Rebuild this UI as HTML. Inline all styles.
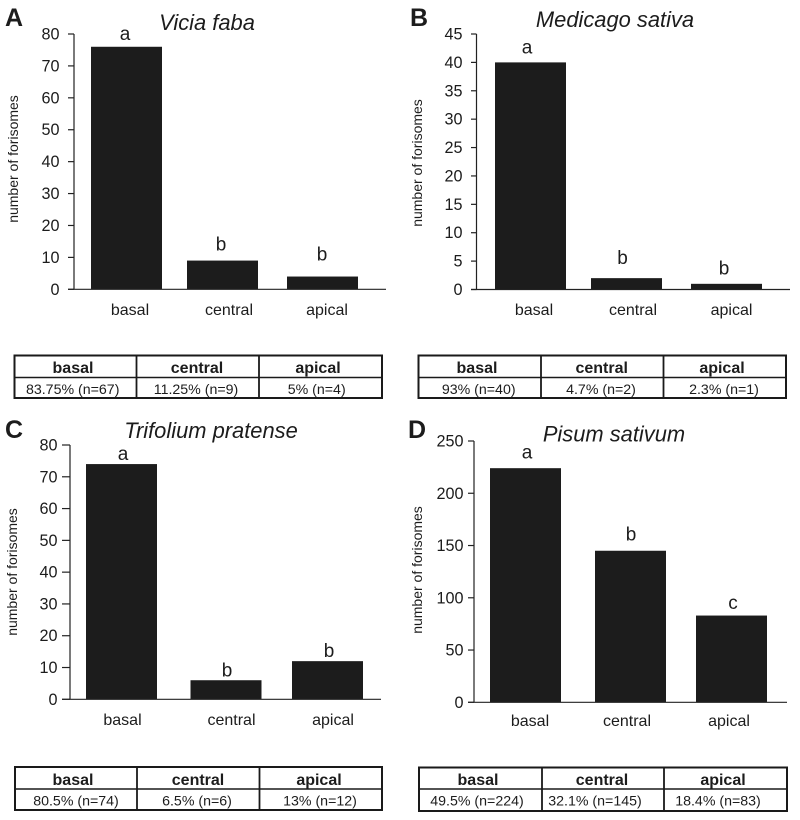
<!DOCTYPE html>
<html>
<head>
<meta charset="utf-8">
<style>
html,body{margin:0;padding:0;background:#fff;}
svg{display:block;font-family:"Liberation Sans",Arial,sans-serif;filter:blur(0.35px);}
text{fill:#1c1c1c;}
</style>
</head>
<body>
<svg id="figure" width="800" height="820" viewBox="0 0 800 820" xmlns="http://www.w3.org/2000/svg"></svg>
<script>
var categories = ['basal', 'central', 'apical'];
var valuesA = [76, 9, 4];
var valuesB = [40, 2, 1];
var valuesC = [74, 6, 12];
var valuesD = [224, 145, 83];
var ticksA = [0, 10, 20, 30, 40, 50, 60, 70, 80];
var ticksB = [0, 5, 10, 15, 20, 25, 30, 35, 40, 45];
var ticksC = [0, 10, 20, 30, 40, 50, 60, 70, 80];
var ticksD = [0, 50, 100, 150, 200, 250];
var lettersA = ['a', 'b', 'b'];
var lettersB = ['a', 'b', 'b'];
var lettersC = ['a', 'b', 'b'];
var lettersD = ['a', 'b', 'c'];
var cellsA = ['83.75% (n=67)', '11.25% (n=9)', '5% (n=4)'];
var cellsB = ['93% (n=40)', '4.7% (n=2)', '2.3% (n=1)'];
var cellsC = ['80.5% (n=74)', '6.5% (n=6)', '13% (n=12)'];
var cellsD = ['49.5% (n=224)', '32.1% (n=145)', '18.4% (n=83)'];

var svg = document.getElementById('figure');
var NS = 'http://www.w3.org/2000/svg';

function mk(tag, name, attrs, content) {
  var el = document.createElementNS(NS, tag);
  
  
  for (var k in attrs) { el.setAttribute(k, attrs[k]); }
  if (content !== undefined) { el.textContent = content; }
  svg.appendChild(el);
  return el;
}

function drawPanel(p) {
  var maxV = p.ticks[p.ticks.length - 1];
  function y(v) { return p.y0 + (p.yTop - p.y0) * v / maxV; }
  var id = p.letter.toLowerCase();

  mk('text', 'panel-label-' + id, {x: p.letterX, y: p.letterY, 'font-size': 25, 'font-weight': 'bold', fill: '#111'}, p.letter);
  mk('text', 'chart-title-' + id, {x: p.titleX, y: p.titleY, 'font-size': 21.9, 'font-style': 'italic', 'text-anchor': 'middle'}, p.title);
  mk('text', 'y-axis-title-' + id, {x: 0, y: 0, 'font-size': 14, 'text-anchor': 'middle',
    transform: 'translate(' + p.yTitleX + ',' + p.yTitleY + ') rotate(-90)'}, 'number of forisomes');

  p.values.forEach(function (v, i) {
    var top = y(v);
    mk('rect', 'bar-' + id + '-' + categories[i], {x: p.barX[i], y: top, width: 71, height: p.y0 - top, fill: '#1c1c1c'});
    mk('text', 'significance-letter-' + id + '-' + categories[i], {x: p.letterXs[i], y: top - p.letterGap[i], 'font-size': 19, 'text-anchor': 'middle'}, p.letters[i]);
    mk('text', 'x-label-' + id + '-' + categories[i], {x: p.labelX[i], y: p.labelY, 'font-size': 16, 'text-anchor': 'middle'}, categories[i]);
  });

  mk('line', 'y-axis-' + id, {x1: p.axisX, x2: p.axisX, y1: p.yTop, y2: p.y0, stroke: '#222', 'stroke-width': 1.2});
  mk('line', 'x-axis-' + id, {x1: p.tickL, x2: p.axisEnd, y1: p.y0, y2: p.y0, stroke: '#222', 'stroke-width': 1.2});
  p.ticks.forEach(function (t) {
    mk('line', 'y-tick-' + id + '-' + t, {x1: p.tickL, x2: p.axisX, y1: y(t), y2: y(t), stroke: '#222', 'stroke-width': 1.2});
    mk('text', 'y-tick-label-' + id + '-' + t, {x: p.tickTextEnd, y: y(t) + 5.5, 'font-size': 16.2, 'text-anchor': 'end'}, t);
  });

  var t = p.table;
  mk('rect', 'table-frame-' + id, {x: t.x0, y: t.y0, width: t.x1 - t.x0, height: t.y1 - t.y0, fill: 'none', stroke: '#1a1a1a', 'stroke-width': 2});
  mk('line', 'table-row-divider-' + id, {x1: t.x0, x2: t.x1, y1: t.mid, y2: t.mid, stroke: '#1a1a1a', 'stroke-width': 1.6});
  t.cols.forEach(function (c, i) {
    mk('line', 'table-col-divider-' + id + '-' + (i + 1), {x1: c, x2: c, y1: t.y0, y2: t.y1, stroke: '#1a1a1a', 'stroke-width': 1.8});
  });
  categories.forEach(function (c, i) {
    mk('text', 'table-header-' + id + '-' + c, {x: t.headX[i], y: t.headY, 'font-size': 16, 'font-weight': 'bold', 'text-anchor': 'middle', fill: '#111'}, c);
    mk('text', 'table-cell-' + id + '-' + c, {x: t.cellX[i], y: t.cellY, 'font-size': 14.2, 'text-anchor': 'middle'}, p.cells[i]);
  });
}

drawPanel({letter: 'A', title: 'Vicia faba', values: valuesA, ticks: ticksA, letters: lettersA, cells: cellsA,
  letterX: 5, letterY: 26, titleX: 207, titleY: 30, yTitleX: 18, yTitleY: 159,
  axisX: 74, tickL: 68, tickTextEnd: 59.5, axisEnd: 386, yTop: 34, y0: 289.3,
  barX: [91, 187, 287], letterXs: [125, 221, 322], letterGap: [7, 10, 16], labelX: [130, 229, 327], labelY: 315,
  table: {x0: 14.5, x1: 382, y0: 355.5, y1: 398, mid: 377.5, cols: [136.5, 259], headX: [73, 197, 318], cellX: [72.7, 196, 316.7], headY: 373, cellY: 394}});

drawPanel({letter: 'B', title: 'Medicago sativa', values: valuesB, ticks: ticksB, letters: lettersB, cells: cellsB,
  letterX: 410, letterY: 26, titleX: 615, titleY: 27, yTitleX: 422, yTitleY: 163,
  axisX: 476.5, tickL: 471, tickTextEnd: 462.5, axisEnd: 790, yTop: 34, y0: 289.5,
  barX: [495, 591, 691], letterXs: [527, 622.5, 724], letterGap: [9, 14, 9.5], labelX: [534, 633, 731.5], labelY: 315,
  table: {x0: 418.5, x1: 786, y0: 355.5, y1: 398, mid: 377.5, cols: [541, 663.5], headX: [477, 601.7, 722], cellX: [478.7, 601, 724], headY: 373, cellY: 394}});

drawPanel({letter: 'C', title: 'Trifolium pratense', values: valuesC, ticks: ticksC, letters: lettersC, cells: cellsC,
  letterX: 5, letterY: 438, titleX: 211, titleY: 438, yTitleX: 17, yTitleY: 572,
  axisX: 70, tickL: 62, tickTextEnd: 57.5, axisEnd: 381, yTop: 445, y0: 699.3,
  barX: [86, 190.5, 292], letterXs: [123, 227, 329], letterGap: [4, 3.5, 4], labelX: [122.5, 231.5, 333], labelY: 725,
  table: {x0: 15, x1: 382, y0: 767, y1: 810, mid: 789, cols: [137, 259.5], headX: [73, 198, 319], cellX: [76, 197, 320], headY: 785, cellY: 805.7}});

drawPanel({letter: 'D', title: 'Pisum sativum', values: valuesD, ticks: ticksD, letters: lettersD, cells: cellsD,
  letterX: 408, letterY: 438, titleX: 614, titleY: 441.5, yTitleX: 422, yTitleY: 570,
  axisX: 474, tickL: 468, tickTextEnd: 463.5, axisEnd: 787, yTop: 441, y0: 702.3,
  barX: [490, 595, 696], letterXs: [527, 631, 733], letterGap: [9.5, 10, 6.5], labelX: [530, 627, 729], labelY: 726,
  table: {x0: 419, x1: 787, y0: 767.5, y1: 811, mid: 789, cols: [542, 664], headX: [478, 602, 723], cellX: [477, 595, 718], headY: 785, cellY: 805.7}});
</script>
</body>
</html>
